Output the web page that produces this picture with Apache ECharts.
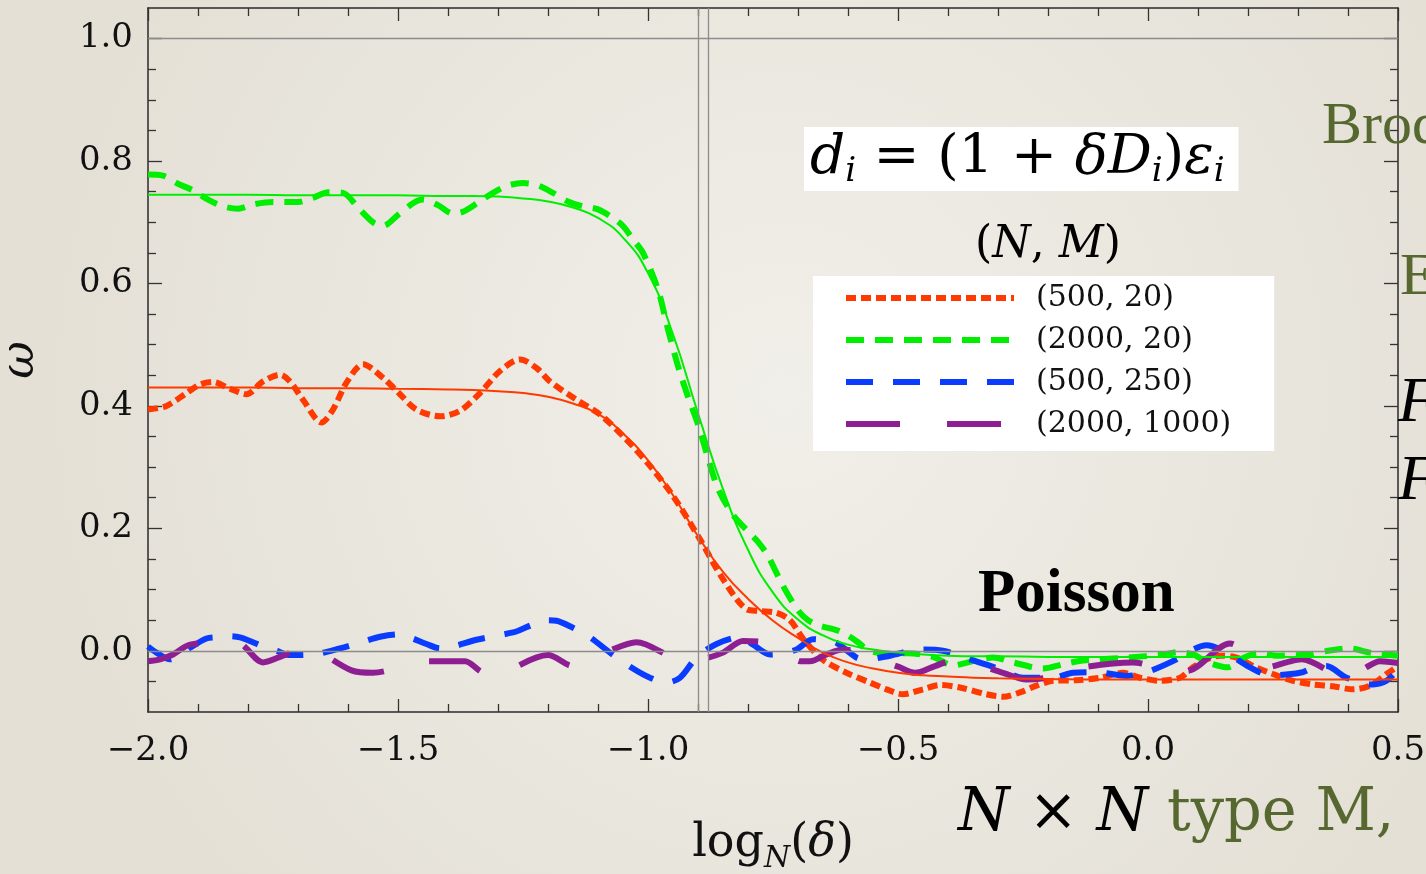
<!DOCTYPE html>
<html><head><meta charset="utf-8">
<script src="https://cdn.jsdelivr.net/npm/echarts@6/dist/echarts.min.js"></script>
<style>html,body{margin:0;padding:0;background:#ebe8e1;} #c{width:1426px;height:874px;}</style>
</head><body><div id="c"></div>
<script>
// ---- tick values / labels ----
const xTickValues = [-2.0, -1.5, -1.0, -0.5, 0.0, 0.5];
const yTickValues = [0.0, 0.2, 0.4, 0.6, 0.8, 1.0];
const yMinorTickValues = [-0.05, 0.05, 0.1, 0.15, 0.25, 0.3, 0.35, 0.45, 0.5, 0.55, 0.65, 0.7, 0.75, 0.85, 0.9, 0.95];
const seriesNames = ['(500, 20)', '(2000, 20)', '(500, 250)', '(2000, 1000)'];
const refLinesX = [-0.896, -0.884];
const refLinesY = [0.0, 1.0];

// ---- series values [log_N(delta), omega] ----
const red500_20 = [[-2.00,0.394],[-1.963,0.400],[-1.923,0.421],[-1.896,0.435],[-1.87,0.439],[-1.836,0.428],[-1.803,0.419],[-1.77,0.440],[-1.736,0.451],[-1.716,0.440],[-1.69,0.410],[-1.653,0.373],[-1.63,0.394],[-1.603,0.438],[-1.57,0.468],[-1.53,0.446],[-1.496,0.419],[-1.463,0.394],[-1.416,0.383],[-1.376,0.392],[-1.336,0.421],[-1.296,0.457],[-1.256,0.476],[-1.223,0.462],[-1.196,0.440],[-1.143,0.410],[-1.096,0.386],[-1.043,0.345],[-0.996,0.302],[-0.95,0.253],[-0.896,0.182],[-0.85,0.117],[-0.803,0.068],[-0.776,0.065],[-0.743,0.062],[-0.716,0.050],[-0.69,0.020],[-0.66,-0.008],[-0.643,-0.019],[-0.603,-0.036],[-0.556,-0.052],[-0.523,-0.063],[-0.49,-0.071],[-0.45,-0.063],[-0.416,-0.056],[-0.376,-0.060],[-0.323,-0.071],[-0.29,-0.075],[-0.256,-0.068],[-0.223,-0.057],[-0.19,-0.049],[-0.143,-0.048],[-0.096,-0.044],[-0.05,-0.036],[-0.016,-0.044],[0.024,-0.049],[0.064,-0.044],[0.09,-0.027],[0.117,-0.014],[0.144,-0.008],[0.177,-0.011],[0.21,-0.025],[0.25,-0.038],[0.29,-0.049],[0.33,-0.055],[0.37,-0.058],[0.41,-0.063],[0.444,-0.057],[0.477,-0.038],[0.50,-0.025]];
const green2000_20 = [[-2.00,0.778],[-1.97,0.776],[-1.94,0.763],[-1.91,0.752],[-1.88,0.737],[-1.85,0.726],[-1.82,0.722],[-1.79,0.729],[-1.75,0.733],[-1.70,0.733],[-1.67,0.740],[-1.64,0.749],[-1.61,0.748],[-1.58,0.724],[-1.55,0.700],[-1.53,0.694],[-1.50,0.712],[-1.47,0.731],[-1.45,0.737],[-1.42,0.728],[-1.39,0.714],[-1.37,0.717],[-1.34,0.732],[-1.31,0.748],[-1.28,0.760],[-1.25,0.764],[-1.22,0.760],[-1.19,0.748],[-1.16,0.734],[-1.13,0.726],[-1.10,0.721],[-1.07,0.707],[-1.05,0.694],[-1.03,0.672],[-1.01,0.650],[-0.98,0.590],[-0.96,0.525],[-0.94,0.465],[-0.92,0.415],[-0.90,0.370],[-0.88,0.315],[-0.86,0.265],[-0.83,0.222],[-0.80,0.195],[-0.78,0.178],[-0.76,0.155],[-0.73,0.106],[-0.70,0.066],[-0.68,0.050],[-0.66,0.042],[-0.62,0.033],[-0.60,0.025],[-0.58,0.014],[-0.56,0.001],[-0.52,-0.005],[-0.48,-0.004],[-0.43,-0.010],[-0.39,-0.024],[-0.36,-0.019],[-0.31,-0.011],[-0.27,-0.019],[-0.21,-0.029],[-0.17,-0.022],[-0.14,-0.017],[-0.10,-0.014],[-0.04,-0.011],[0.03,-0.006],[0.06,-0.002],[0.09,-0.006],[0.12,-0.019],[0.16,-0.027],[0.19,-0.012],[0.22,-0.004],[0.26,-0.008],[0.32,-0.006],[0.36,0.000],[0.40,0.004],[0.45,-0.004],[0.50,-0.008]];
const blue500_250 = [[-2.00,0.007],[-1.983,-0.003],[-1.956,-0.014],[-1.93,-0.002],[-1.91,0.008],[-1.883,0.020],[-1.863,0.022],[-1.84,0.024],[-1.816,0.022],[-1.79,0.014],[-1.77,0.007],[-1.743,0.000],[-1.716,-0.007],[-1.67,-0.006],[-1.616,0.004],[-1.57,0.015],[-1.536,0.023],[-1.496,0.027],[-1.47,0.020],[-1.443,0.011],[-1.416,0.004],[-1.39,0.007],[-1.343,0.018],[-1.27,0.030],[-1.256,0.034],[-1.23,0.043],[-1.203,0.050],[-1.183,0.049],[-1.156,0.040],[-1.116,0.022],[-1.076,-0.003],[-1.03,-0.029],[-0.996,-0.044],[-0.963,-0.052],[-0.936,-0.044],[-0.903,-0.011],[-0.863,0.011],[-0.816,0.022],[-0.79,0.010],[-0.756,-0.006],[-0.73,-0.004],[-0.703,0.002],[-0.67,0.019],[-0.645,0.017],[-0.623,0.013],[-0.583,-0.011],[-0.563,-0.014],[-0.516,-0.008],[-0.456,0.002],[-0.41,0.000],[-0.356,-0.014],[-0.296,-0.030],[-0.25,-0.044],[-0.19,-0.044],[-0.15,-0.036],[-0.103,-0.035],[-0.043,-0.041],[-0.003,-0.035],[0.057,-0.014],[0.09,0.002],[0.117,0.009],[0.15,0.000],[0.204,-0.027],[0.244,-0.040],[0.304,-0.036],[0.344,-0.025],[0.357,-0.025],[0.397,-0.044],[0.45,-0.055],[0.477,-0.049],[0.50,-0.030]];
const purple2000_1000 = [[-2.00,-0.017],[-1.976,-0.014],[-1.95,-0.006],[-1.916,0.010],[-1.823,0.014],[-1.77,-0.019],[-1.73,-0.008],[-1.686,0.005],[-1.593,-0.032],[-1.55,-0.036],[-1.51,-0.030],[-1.466,-0.017],[-1.366,-0.017],[-1.336,-0.033],[-1.306,-0.048],[-1.28,-0.033],[-1.2,-0.007],[-1.15,-0.025],[-1.083,-0.002],[-1.023,0.014],[-0.93,-0.015],[-0.89,-0.013],[-0.85,-0.003],[-0.81,0.016],[-0.73,0.008],[-0.696,-0.017],[-0.676,-0.017],[-0.643,-0.006],[-0.61,0.002],[-0.5,-0.026],[-0.466,-0.036],[-0.426,-0.025],[-0.386,-0.015],[-0.29,-0.036],[-0.243,-0.047],[-0.203,-0.044],[-0.136,-0.028],[-0.03,-0.019],[0.03,-0.030],[0.077,-0.033],[0.164,0.012],[0.197,-0.003],[0.237,-0.027],[0.277,-0.019],[0.307,-0.014],[0.397,-0.044],[0.43,-0.030],[0.464,-0.017],[0.50,-0.020]];
const redFit = [[-2.0,0.430],[-1.9,0.430],[-1.8,0.430],[-1.7,0.429],[-1.6,0.429],[-1.5,0.428],[-1.4,0.427],[-1.35,0.426],[-1.3,0.424],[-1.25,0.421],[-1.2,0.415],[-1.15,0.404],[-1.1,0.387],[-1.05,0.355],[-1.0,0.311],[-0.95,0.254],[-0.9,0.187],[-0.85,0.129],[-0.8,0.085],[-0.75,0.049],[-0.7,0.021],[-0.65,-0.003],[-0.6,-0.019],[-0.55,-0.029],[-0.5,-0.036],[-0.45,-0.040],[-0.4,-0.042],[-0.35,-0.044],[-0.3,-0.045],[-0.2,-0.046],[-0.1,-0.047],[0.0,-0.047],[0.1,-0.047],[0.2,-0.047],[0.3,-0.047],[0.4,-0.047],[0.5,-0.047]];
const greenFit = [[-2.0,0.745],[-1.9,0.745],[-1.8,0.745],[-1.7,0.744],[-1.6,0.744],[-1.5,0.744],[-1.4,0.743],[-1.35,0.743],[-1.3,0.742],[-1.25,0.739],[-1.2,0.734],[-1.15,0.724],[-1.1,0.707],[-1.05,0.675],[-1.0,0.617],[-0.95,0.517],[-0.9,0.388],[-0.85,0.264],[-0.8,0.165],[-0.75,0.095],[-0.7,0.051],[-0.65,0.025],[-0.6,0.010],[-0.55,0.002],[-0.5,-0.003],[-0.45,-0.006],[-0.4,-0.008],[-0.35,-0.009],[-0.3,-0.009],[-0.2,-0.010],[-0.1,-0.010],[0.0,-0.010],[0.1,-0.010],[0.2,-0.010],[0.3,-0.010],[0.4,-0.010],[0.5,-0.010]];

const RED = '#ff3a00', GREEN = '#00ee00', BLUE = '#0a3cff', PURPLE = '#8e1f92', OLIVE = '#566830';
const SERIF = '"DejaVu Serif", serif';
const minus = v => (Math.abs(v) < 1e-9 ? '0.0' : v.toFixed(1).replace('-', '\u2212'));

const frame = { show: true, onZero: false, lineStyle: { color: '#2a2a2a', width: 1.5 } };
const xBase = { type: 'value', min: -2, max: 0.5, interval: 0.5, splitLine: { show: false }, axisLine: frame,
  axisTick: { show: true, inside: true, length: 13, lineStyle: { color: '#333', width: 1.3 } },
  minorTick: { show: true, splitNumber: 5, length: 8, lineStyle: { color: '#333', width: 1.3 } } };
const yBase = { type: 'value', min: -0.1, max: 1.05, splitLine: { show: false } };
const hiddenLine = { show: false, onZero: false };

const chart = echarts.init(document.getElementById('c'), null, { renderer: 'canvas' });
chart.setOption({
  backgroundColor: { type: 'radial', x: 0.55, y: 0.45, r: 0.85, colorStops: [{ offset: 0, color: '#f1efe9' }, { offset: 1, color: '#e4e0d6' }] },
  animation: false,
  grid: { left: 148, right: 28, top: 8, bottom: 162, outerBoundsMode: 'none', containLabel: false },
  legend: {
    data: seriesNames, orient: 'vertical', left: 813, top: 276,
    itemWidth: 168, itemHeight: 14, itemGap: 12,
    padding: [7, 43, 12, 30], backgroundColor: '#ffffff',
    lineStyle: { width: 6 },
    itemStyle: { color: 'rgba(0,0,0,0)', borderWidth: 0, opacity: 0 },
    textStyle: { fontFamily: SERIF, fontSize: 30, color: '#111', lineHeight: 30, padding: [0, 0, 0, 17] },
    selectedMode: false
  },
  xAxis: [
    Object.assign({}, xBase, { position: 'bottom',
      axisLabel: { show: true, margin: 22, fontFamily: SERIF, fontSize: 34, color: '#111', formatter: minus, customValues: xTickValues },
      name: '{a|log}{s|N}{a|(}{i|δ}{a|)}', nameLocation: 'middle', nameGap: 102,
      nameTextStyle: { rich: {
        a: { fontFamily: SERIF, fontSize: 46, color: '#111', lineHeight: 60 },
        i: { fontFamily: SERIF, fontStyle: 'italic', fontSize: 46, color: '#111', lineHeight: 60 },
        s: { fontFamily: SERIF, fontStyle: 'italic', fontSize: 30, color: '#111', lineHeight: 30, verticalAlign: 'bottom' } } } }),
    Object.assign({}, xBase, { position: 'top', axisLabel: { show: false } })
  ],
  yAxis: [
    Object.assign({}, yBase, { position: 'left', axisLine: frame,
      axisTick: { show: true, inside: true, length: 14, customValues: yTickValues, lineStyle: { color: '#333', width: 1.3 } },
      axisLabel: { show: true, margin: 15, fontFamily: SERIF, fontSize: 34, color: '#111', customValues: yTickValues, formatter: v => v.toFixed(1) },
      name: 'ω', nameLocation: 'middle', nameGap: 104, nameRotate: 90,
      nameTextStyle: { fontFamily: SERIF, fontStyle: 'italic', fontSize: 46, color: '#111' } }),
    Object.assign({}, yBase, { position: 'left', axisLine: hiddenLine,
      axisTick: { show: true, inside: true, length: 8, customValues: yMinorTickValues, lineStyle: { color: '#333', width: 1.3 } },
      axisLabel: { show: false } }),
    Object.assign({}, yBase, { position: 'right', axisLine: frame,
      axisTick: { show: true, inside: true, length: 14, customValues: yTickValues, lineStyle: { color: '#333', width: 1.3 } },
      axisLabel: { show: false } }),
    Object.assign({}, yBase, { position: 'right', axisLine: hiddenLine,
      axisTick: { show: true, inside: true, length: 8, customValues: yMinorTickValues, lineStyle: { color: '#333', width: 1.3 } },
      axisLabel: { show: false } })
  ],
  series: [
    { name: 'ref', type: 'line', data: [], silent: true, z: 1,
      markLine: { silent: true, symbol: 'none', label: { show: false }, animation: false,
        lineStyle: { color: '#8c8c8c', width: 1.3, type: 'solid' },
        data: refLinesX.map(v => ({ xAxis: v })).concat(refLinesY.map(v => ({ yAxis: v }))) } },
    { name: seriesNames[0], type: 'line', data: red500_20, symbol: 'none', smooth: 0.3, z: 3,
      lineStyle: { color: RED, width: 6, type: [10, 5] }, itemStyle: { color: RED } },
    { name: seriesNames[1], type: 'line', data: green2000_20, symbol: 'none', smooth: 0.3, z: 3,
      lineStyle: { color: GREEN, width: 6, type: [18, 11] }, itemStyle: { color: GREEN } },
    { name: seriesNames[2], type: 'line', data: blue500_250, symbol: 'none', smooth: 0.3, z: 3,
      lineStyle: { color: BLUE, width: 6, type: [27, 20] }, itemStyle: { color: BLUE } },
    { name: seriesNames[3], type: 'line', data: purple2000_1000, symbol: 'none', smooth: 0.3, z: 3,
      lineStyle: { color: PURPLE, width: 6, type: [54, 47] }, itemStyle: { color: PURPLE } },
    { name: 'fit500', type: 'line', data: redFit, symbol: 'none', smooth: 0.5, z: 4,
      lineStyle: { color: RED, width: 2 } },
    { name: 'fit2000', type: 'line', data: greenFit, symbol: 'none', smooth: 0.5, z: 4,
      lineStyle: { color: GREEN, width: 2 } }
  ],
  graphic: [
    { type: 'text', left: 804, top: 127, z: 10, style: {
        text: '{i|d}{s|i}{n| = (1 + }{i|δD}{s|i}{n|)}{i|ε}{s|i}',
        backgroundColor: '#ffffff', padding: [2, 14, 2, 6],
        rich: {
          i: { fontFamily: SERIF, fontStyle: 'italic', fontSize: 55, fill: '#000', lineHeight: 60 },
          n: { fontFamily: SERIF, fontSize: 55, fill: '#000', lineHeight: 60 },
          s: { fontFamily: SERIF, fontStyle: 'italic', fontSize: 34, fill: '#000', lineHeight: 34, verticalAlign: 'bottom' } } } },
    { type: 'text', left: 975, top: 224, z: 10, style: {
        text: '{n|(}{i|N}{n|, }{i|M}{n|)}',
        rich: {
          i: { fontFamily: SERIF, fontStyle: 'italic', fontSize: 44, fill: '#000' },
          n: { fontFamily: SERIF, fontSize: 44, fill: '#000' } } } },
    { type: 'text', left: 978, top: 565, z: 10, style: { text: 'Poisson', font: 'bold 61px "Liberation Serif", serif', fill: '#000' } },
    { type: 'text', left: 1322, top: 97, z: 10, style: { text: 'Brody', font: '60px "Liberation Serif", serif', fill: OLIVE } },
    { type: 'text', left: 1400, top: 248, z: 10, style: { text: 'E', font: '60px "Liberation Serif", serif', fill: OLIVE } },
    { type: 'text', left: 1398, top: 372, z: 10, style: { text: 'F', font: 'italic 64px "Liberation Serif", serif', fill: '#000' } },
    { type: 'text', left: 1398, top: 450, z: 10, style: { text: 'F', font: 'italic 64px "Liberation Serif", serif', fill: '#000' } },
    { type: 'text', left: 958, top: 785, z: 10, style: {
        text: '{i|N}{n| × }{i|N}{o| type M,}',
        rich: {
          i: { fontFamily: SERIF, fontStyle: 'italic', fontSize: 59, fill: '#000' },
          n: { fontFamily: SERIF, fontSize: 59, fill: '#000' },
          o: { fontFamily: SERIF, fontSize: 59, fill: OLIVE } } } }
  ]
});
</script>
</body></html>
